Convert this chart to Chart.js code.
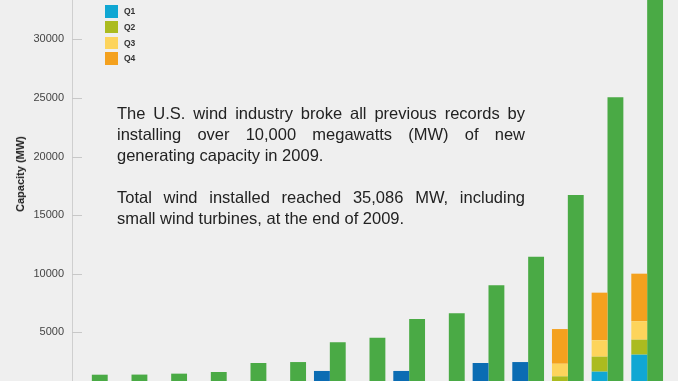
<!DOCTYPE html>
<html>
<head>
<meta charset="utf-8">
<script src="https://cdn.jsdelivr.net/npm/chart.js@4.4.1/dist/chart.umd.min.js"></script>
<style>
  html, body { margin: 0; padding: 0; background: #efefef; overflow: hidden; width: 678px; height: 381px; }
  #wrap { position: absolute; left: 0; top: 0; width: 678px; height: 391px; }
  #ytitle { position: absolute; left: 19.5px; top: 174px; transform: translate(-50%, -50%) rotate(-90deg);
    font: bold 11px "Liberation Sans", Arial, sans-serif; color: #222; white-space: nowrap; }
  #legend { position: absolute; left: 105px; top: 5px; font: bold 8.5px "Liberation Sans", Arial, sans-serif; color: #333; }
  #legend .it { height: 15.8px; display: flex; align-items: flex-start; }
  #legend .sw { width: 12.5px; height: 12.5px; margin-right: 6.5px; }
  #legend .lb { line-height: 12.5px; }
  #note { position: absolute; left: 117px; top: 103px; width: 408px; font: 16.5px "Liberation Sans", Arial, sans-serif;
    line-height: 21px; color: #222; text-align: justify; }
  #note p { margin: 0 0 21px 0; }
</style>
</head>
<body>
<div id="wrap"><canvas id="c" width="678" height="391"></canvas></div>
<div id="ytitle">Capacity (MW)</div>
<div id="legend"></div>
<div id="note">
  <p>The U.S. wind industry broke all previous records by installing over 10,000 megawatts (MW) of new generating capacity in 2009.</p>
  <p>Total wind installed reached 35,086 MW, including small wind turbines, at the end of 2009.</p>
</div>
<script>
const years = ['1995','1996','1997','1998','1999','2000','2001','2002','2003','2004','2005','2006','2007','2008','2009'];
const cumulative = [1390, 1400, 1480, 1620, 2390, 2470, 4160, 4550, 6140, 6630, 9020, 11460, 16720, 25060, 35086];
const annual = [null, null, null, null, null, null, 1710, null, 1710, null, 2390, 2470, null, null, null];
const q1 = [null, null, null, null, null, null, null, null, null, null, null, null, 450, 1650, 3100];
const q2 = [null, null, null, null, null, null, null, null, null, null, null, null, 800, 1280, 1280];
const q3 = [null, null, null, null, null, null, null, null, null, null, null, null, 1075, 1400, 1570];
const q4 = [null, null, null, null, null, null, null, null, null, null, null, null, 2960, 4060, 4060];
const yTicks = [5000, 10000, 15000, 20000, 25000, 30000];
const quarterLabels = ['Q1', 'Q2', 'Q3', 'Q4'];

const colors = { annual: '#0b6cb3', q1: '#10a7d3', q2: '#abbb1f', q3: '#fdd45c', q4: '#f4a11e', cum: '#4aaa45' };

// HTML legend
const legendEl = document.getElementById('legend');
[colors.q1, colors.q2, colors.q3, colors.q4].forEach((col, i) => {
  const it = document.createElement('div'); it.className = 'it';
  const sw = document.createElement('div'); sw.className = 'sw'; sw.style.background = col;
  const lb = document.createElement('div'); lb.className = 'lb'; lb.textContent = quarterLabels[i];
  it.appendChild(sw); it.appendChild(lb); legendEl.appendChild(it);
});

const innerTicks = {
  id: 'innerTicks',
  beforeDatasetsDraw(chart) {
    const y = chart.scales.y, ctx = chart.ctx, left = chart.chartArea.left;
    ctx.save();
    ctx.strokeStyle = '#c8c8c8'; ctx.lineWidth = 1;
    y.ticks.forEach(t => {
      const py = Math.round(y.getPixelForValue(t.value)) + 0.5;
      ctx.beginPath(); ctx.moveTo(left, py); ctx.lineTo(left + 10, py); ctx.stroke();
    });
    ctx.restore();
  }
};

const ds = (label, data, color, stack) => ({ label, data, backgroundColor: color, stack, borderWidth: 0,
  categoryPercentage: 0.8, barPercentage: 1.0 });

new Chart(document.getElementById('c'), {
  type: 'bar',
  data: {
    labels: years,
    datasets: [
      ds('Annual', annual, colors.annual, 'q'),
      ds('Q1', q1, colors.q1, 'q'),
      ds('Q2', q2, colors.q2, 'q'),
      ds('Q3', q3, colors.q3, 'q'),
      ds('Q4', q4, colors.q4, 'q'),
      ds('Cumulative', cumulative, colors.cum, 'c')
    ]
  },
  options: {
    responsive: false,
    devicePixelRatio: 1,
    animation: false,
    layout: { padding: { left: 0, right: 11, top: 0, bottom: 0 } },
    plugins: { legend: { display: false }, tooltip: { enabled: false } },
    scales: {
      x: { stacked: true, display: false },
      y: {
        stacked: true, min: 0, max: 33360,
        afterFit: s => { s.width = 72; s.paddingTop = 0; s.paddingBottom = 0; },
        afterBuildTicks: s => { s.ticks = yTicks.map(v => ({ value: v })); },
        ticks: { padding: 8, color: '#444', font: { family: '"Liberation Sans", Arial, sans-serif', size: 11 },
          callback: v => String(v) },
        grid: { drawOnChartArea: false, drawTicks: false },
        border: { display: true, color: '#cfcfcf', width: 1 }
      }
    }
  },
  plugins: [innerTicks]
});
</script>
</body>
</html>
